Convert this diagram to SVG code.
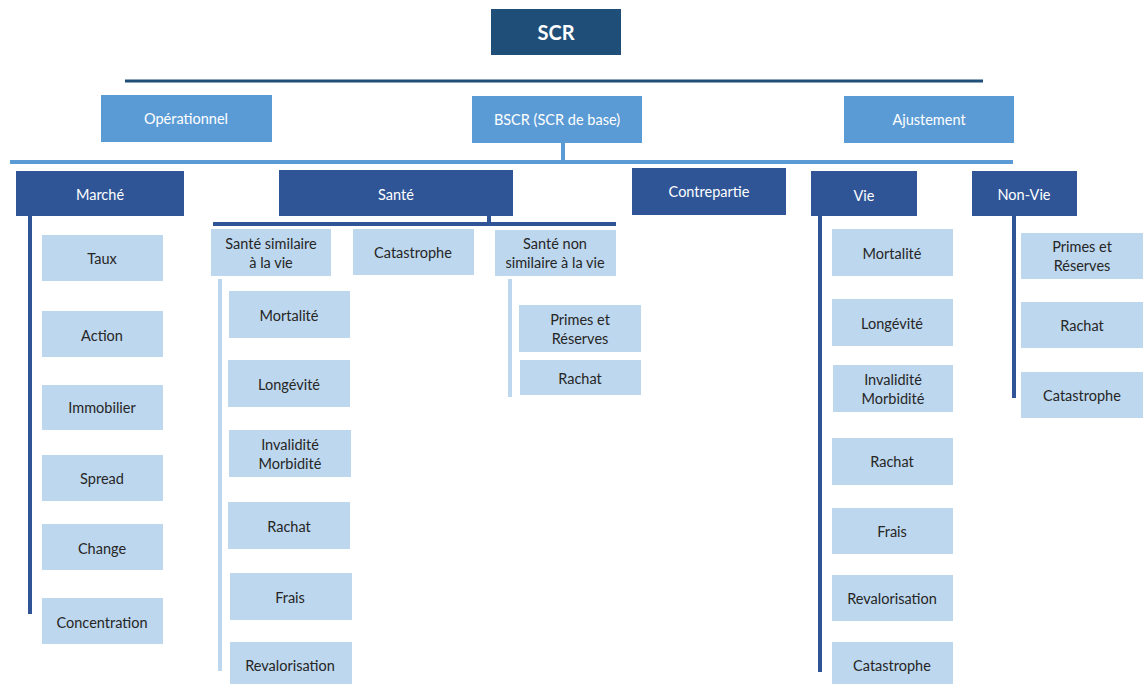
<svg xmlns="http://www.w3.org/2000/svg" width="1144" height="684" viewBox="0 0 1144 684">
<style>
text{font-family:Lato,"Open Sans","Liberation Sans",sans-serif;font-size:14.5px;text-anchor:middle;dominant-baseline:central}
.top{fill:#1f4e79}
.mid{fill:#5b9bd5}
.cat{fill:#2f5597}
.leaf{fill:#bdd7ee}
.w{fill:#ffffff}
.d{fill:#262626}
.ln-dark{stroke:#1f4e79;stroke-width:3;fill:none}
.ln-mid{stroke:#5b9bd5;stroke-width:4;fill:none}
.ln-cat{stroke:#2f5597;stroke-width:4;fill:none}
.ln-leaf{stroke:#bdd7ee;stroke-width:4;fill:none}
</style>
<rect width="1144" height="684" fill="#ffffff"/>
<g id="connectors">
<line class="ln-dark" x1="125" y1="81" x2="983" y2="81"/>
<line class="ln-mid" x1="563" y1="143" x2="563" y2="162"/>
<line class="ln-mid" x1="10" y1="162" x2="1013" y2="162"/>
<line class="ln-cat" x1="30" y1="216" x2="30" y2="614"/>
<line class="ln-cat" x1="489" y1="216" x2="489" y2="224"/>
<line class="ln-cat" x1="213" y1="224" x2="616" y2="224"/>
<line class="ln-leaf" x1="220" y1="279" x2="220" y2="671"/>
<line class="ln-leaf" x1="510" y1="279" x2="510" y2="397"/>
<line class="ln-cat" x1="820" y1="216" x2="820" y2="672"/>
<line class="ln-cat" x1="1014" y1="216" x2="1014" y2="398"/>
</g>
<g id="n-scr"><rect class="top" x="491" y="9" width="130" height="46"/><text class="w" x="556" y="32" style="font-size:20px;font-weight:bold">SCR</text></g>
<g id="n-operationnel"><rect class="mid" x="101" y="95" width="171" height="47"/><text class="w" x="186" y="118">Opérationnel</text></g>
<g id="n-bscr"><rect class="mid" x="472" y="96" width="170" height="47"/><text class="w" x="557" y="119">BSCR (SCR de base)</text></g>
<g id="n-ajustement"><rect class="mid" x="844" y="96" width="170" height="47"/><text class="w" x="929" y="119">Ajustement</text></g>
<g id="n-marche"><rect class="cat" x="16" y="171" width="168" height="45"/><text class="w" x="100" y="194">Marché</text></g>
<g id="n-sante"><rect class="cat" x="279" y="170" width="234" height="46"/><text class="w" x="396" y="194">Santé</text></g>
<g id="n-contrepartie"><rect class="cat" x="632" y="168" width="154" height="47"/><text class="w" x="709" y="191">Contrepartie</text></g>
<g id="n-vie"><rect class="cat" x="811" y="171" width="106" height="45"/><text class="w" x="864" y="195">Vie</text></g>
<g id="n-nonvie"><rect class="cat" x="972" y="171" width="105" height="45"/><text class="w" x="1024" y="194">Non-Vie</text></g>

<g id="n-taux"><rect class="leaf" x="42" y="235" width="121" height="46"/><text class="d" x="102" y="258">Taux</text></g>
<g id="n-action"><rect class="leaf" x="42" y="311" width="121" height="46"/><text class="d" x="102" y="335">Action</text></g>
<g id="n-immobilier"><rect class="leaf" x="42" y="385" width="121" height="45"/><text class="d" x="102" y="407">Immobilier</text></g>
<g id="n-spread"><rect class="leaf" x="42" y="455" width="121" height="46"/><text class="d" x="102" y="478">Spread</text></g>
<g id="n-change"><rect class="leaf" x="42" y="524" width="121" height="46"/><text class="d" x="102" y="548">Change</text></g>
<g id="n-concentration"><rect class="leaf" x="42" y="598" width="121" height="46"/><text class="d" x="102" y="622">Concentration</text></g>

<g id="n-sante-sim"><rect class="leaf" x="211" y="229" width="120" height="47"/><text class="d" x="271" y="243">Santé similaire</text><text class="d" x="271" y="262">à la vie</text></g>
<g id="n-sante-cat"><rect class="leaf" x="353" y="229" width="121" height="46"/><text class="d" x="413" y="252">Catastrophe</text></g>
<g id="n-sante-nonsim"><rect class="leaf" x="495" y="230" width="121" height="46"/><text class="d" x="555" y="243">Santé non</text><text class="d" x="555" y="262">similaire à la vie</text></g>

<g id="n-ss-mortalite"><rect class="leaf" x="229" y="291" width="121" height="47"/><text class="d" x="289" y="315">Mortalité</text></g>
<g id="n-ss-longevite"><rect class="leaf" x="228" y="360" width="122" height="47"/><text class="d" x="289" y="384">Longévité</text></g>
<g id="n-ss-invalidite"><rect class="leaf" x="229" y="430" width="122" height="47"/><text class="d" x="290" y="444">Invalidité</text><text class="d" x="290" y="463">Morbidité</text></g>
<g id="n-ss-rachat"><rect class="leaf" x="228" y="502" width="122" height="47"/><text class="d" x="289" y="526">Rachat</text></g>
<g id="n-ss-frais"><rect class="leaf" x="230" y="573" width="122" height="47"/><text class="d" x="290" y="597">Frais</text></g>
<g id="n-ss-revalorisation"><rect class="leaf" x="230" y="642" width="122" height="47"/><text class="d" x="290" y="665">Revalorisation</text></g>

<g id="n-sn-primes"><rect class="leaf" x="519" y="305" width="122" height="47"/><text class="d" x="580" y="319">Primes et</text><text class="d" x="580" y="338">Réserves</text></g>
<g id="n-sn-rachat"><rect class="leaf" x="520" y="360" width="121" height="35"/><text class="d" x="580" y="378">Rachat</text></g>

<g id="n-vie-mortalite"><rect class="leaf" x="832" y="229" width="121" height="47"/><text class="d" x="892" y="253">Mortalité</text></g>
<g id="n-vie-longevite"><rect class="leaf" x="832" y="299" width="121" height="47"/><text class="d" x="892" y="323">Longévité</text></g>
<g id="n-vie-invalidite"><rect class="leaf" x="833" y="365" width="120" height="47"/><text class="d" x="893" y="379">Invalidité</text><text class="d" x="893" y="398">Morbidité</text></g>
<g id="n-vie-rachat"><rect class="leaf" x="832" y="438" width="121" height="47"/><text class="d" x="892" y="461">Rachat</text></g>
<g id="n-vie-frais"><rect class="leaf" x="832" y="508" width="121" height="46"/><text class="d" x="892" y="531">Frais</text></g>
<g id="n-vie-revalorisation"><rect class="leaf" x="832" y="575" width="121" height="46"/><text class="d" x="892" y="598">Revalorisation</text></g>
<g id="n-vie-catastrophe"><rect class="leaf" x="832" y="642" width="121" height="46"/><text class="d" x="892" y="665">Catastrophe</text></g>

<g id="n-nv-primes"><rect class="leaf" x="1021" y="233" width="122" height="46"/><text class="d" x="1082" y="246">Primes et</text><text class="d" x="1082" y="265">Réserves</text></g>
<g id="n-nv-rachat"><rect class="leaf" x="1021" y="302" width="122" height="46"/><text class="d" x="1082" y="325">Rachat</text></g>
<g id="n-nv-catastrophe"><rect class="leaf" x="1021" y="372" width="122" height="46"/><text class="d" x="1082" y="395">Catastrophe</text></g>
</svg>
